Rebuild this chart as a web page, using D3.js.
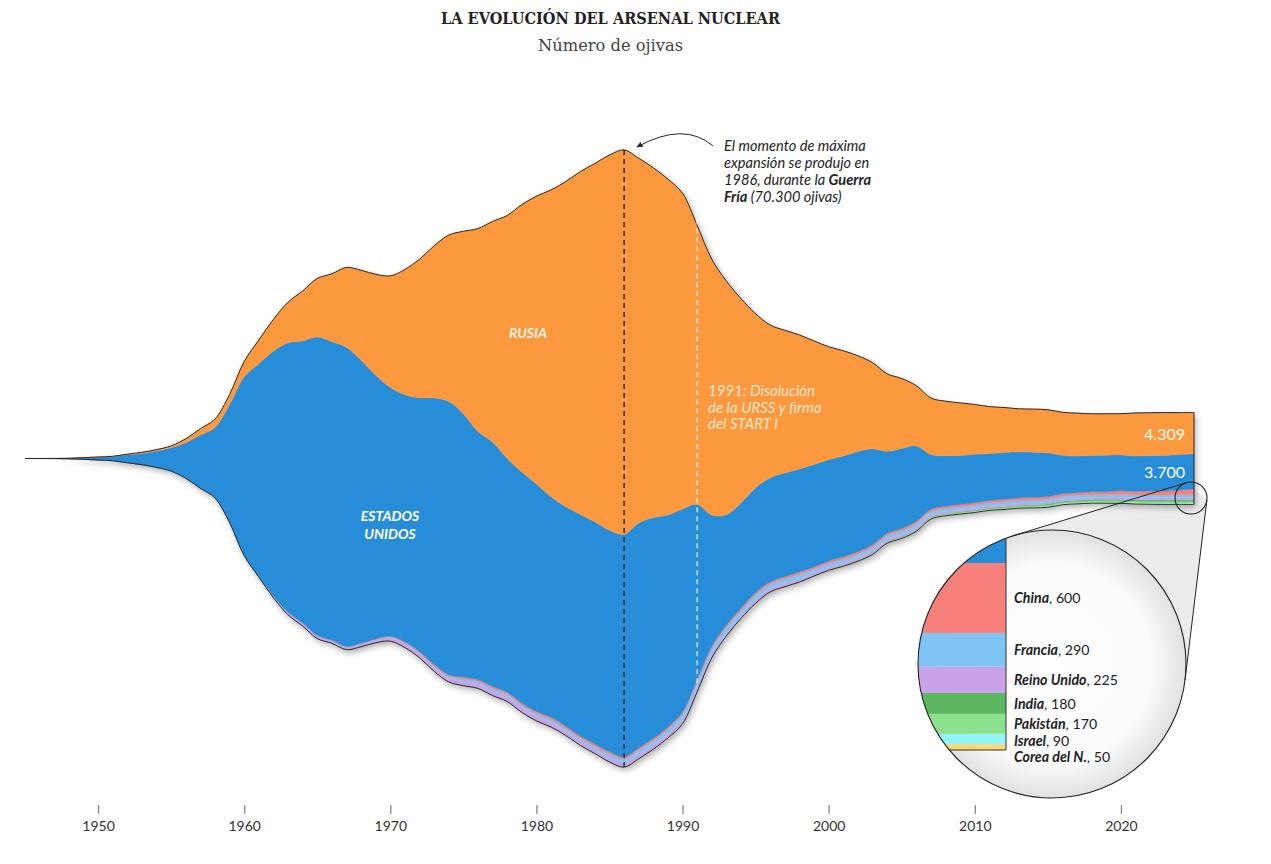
<!DOCTYPE html>
<html><head><meta charset="utf-8">
<script src="https://cdn.jsdelivr.net/npm/d3@7"></script>
<style>
body{margin:0;background:#fff;}
svg{display:block;}
text{font-family:Lato,"Open Sans",sans-serif;}
</style></head><body>
<svg id="chart" width="1271" height="864"></svg>
<script>
// ---------- DATA ----------
const startYear = 1945, endYear = 2025;
const years = d3.range(startYear, endYear + 1);

const usa = [
  2, 9, 13, 50, 170, 299, 438, 841, 1169, 1703,
  2422, 3692, 5543, 7345, 12298, 18638, 22229, 25540, 28133, 29463,
  31139, 31175, 31255, 29561, 27552, 26008, 25830, 26516, 27835, 28537,
  27519, 25914, 25542, 24418, 24138, 23764, 23031, 22937, 23154, 23228,
  23135, 23254, 23490, 23077, 22174, 21211, 18306, 13731, 11536, 11012,
  10953, 10886, 10829, 10763, 10698, 10577, 10526, 10457, 10027, 8570,
  8360, 7853, 5709, 5273, 5113, 5066, 4897, 4881, 4804, 4717,
  4571, 4018, 3822, 3785, 3805, 3750, 3708, 3708, 3708, 3708,
  3700];
const rusia = [
  0, 0, 0, 0, 1, 5, 25, 50, 120, 150,
  200, 426, 660, 869, 1060, 1605, 2471, 3322, 4238, 5221,
  6129, 7089, 8339, 9399, 10538, 11643, 13092, 14478, 15915, 17385,
  19055, 21205, 23044, 25393, 27935, 30062, 32049, 33952, 35804, 37431,
  39197, 40159, 38107, 36538, 35078, 32980, 29154, 26734, 24403, 21339,
  18179, 15942, 14900, 14000, 12900, 11800, 11000, 10000, 9000, 8100,
  7300, 6300, 5900, 5700, 5500, 5200, 4900, 4700, 4500, 4500,
  4500, 4500, 4490, 4350, 4330, 4310, 4495, 4477, 4489, 4380,
  4309];
const reinoUnido = [
  0, 0, 0, 0, 0, 0, 0, 0, 1, 5,
  10, 15, 20, 22, 25, 30, 50, 205, 280, 310,
  310, 270, 270, 280, 308, 375, 420, 420, 420, 420,
  492, 492, 492, 492, 492, 492, 492, 422, 422, 422,
  422, 422, 422, 422, 422, 422, 422, 350, 300, 250,
  300, 300, 300, 280, 281, 281, 281, 281, 281, 281,
  281, 281, 225, 225, 225, 225, 225, 225, 225, 225,
  215, 215, 215, 215, 215, 225, 225, 225, 225, 225,
  225];
const francia = [
  0, 0, 0, 0, 0, 0, 0, 0, 0, 0,
  0, 0, 0, 0, 0, 0, 0, 0, 0, 4,
  32, 36, 36, 36, 36, 36, 45, 70, 116, 145,
  188, 212, 228, 235, 235, 250, 274, 274, 279, 280,
  360, 355, 420, 410, 410, 505, 540, 540, 525, 510,
  500, 450, 450, 450, 350, 350, 350, 350, 350, 350,
  350, 350, 350, 300, 300, 300, 300, 300, 300, 300,
  300, 300, 300, 300, 290, 290, 290, 290, 290, 290,
  290];
const china = [
  0, 0, 0, 0, 0, 0, 0, 0, 0, 0,
  0, 0, 0, 0, 0, 0, 0, 0, 0, 1,
  5, 20, 25, 35, 50, 75, 100, 130, 150, 170,
  185, 190, 200, 205, 210, 215, 220, 225, 230, 235,
  240, 224, 232, 232, 232, 232, 232, 234, 234, 234,
  234, 234, 232, 232, 232, 232, 235, 235, 235, 235,
  235, 235, 240, 240, 240, 240, 240, 250, 250, 260,
  260, 270, 280, 290, 300, 350, 350, 410, 410, 500,
  600];
const india = [
  0, 0, 0, 0, 0, 0, 0, 0, 0, 0,
  0, 0, 0, 0, 0, 0, 0, 0, 0, 0,
  0, 0, 0, 0, 0, 0, 0, 0, 0, 0,
  0, 0, 0, 0, 0, 0, 0, 0, 0, 0,
  0, 0, 0, 0, 0, 0, 0, 0, 0, 0,
  0, 0, 0, 10, 15, 20, 25, 30, 35, 40,
  45, 50, 60, 70, 75, 80, 90, 95, 100, 105,
  110, 120, 130, 135, 140, 150, 156, 160, 164, 172,
  180];
const pakistan = [
  0, 0, 0, 0, 0, 0, 0, 0, 0, 0,
  0, 0, 0, 0, 0, 0, 0, 0, 0, 0,
  0, 0, 0, 0, 0, 0, 0, 0, 0, 0,
  0, 0, 0, 0, 0, 0, 0, 0, 0, 0,
  0, 0, 0, 0, 0, 0, 0, 0, 0, 0,
  0, 0, 0, 5, 10, 20, 25, 30, 35, 40,
  45, 55, 65, 75, 80, 90, 100, 110, 115, 120,
  130, 135, 140, 150, 160, 160, 165, 165, 170, 170,
  170];
const israel = [
  0, 0, 0, 0, 0, 0, 0, 0, 0, 0,
  0, 0, 0, 0, 0, 0, 0, 0, 0, 0,
  0, 0, 2, 4, 8, 13, 15, 17, 18, 20,
  20, 22, 24, 27, 29, 31, 33, 36, 38, 40,
  42, 44, 46, 49, 51, 53, 55, 57, 59, 61,
  63, 65, 67, 69, 71, 72, 74, 76, 78, 80,
  80, 80, 80, 80, 80, 80, 80, 80, 80, 80,
  80, 80, 80, 80, 80, 90, 90, 90, 90, 90,
  90];
const coreaNorte = [
  0, 0, 0, 0, 0, 0, 0, 0, 0, 0,
  0, 0, 0, 0, 0, 0, 0, 0, 0, 0,
  0, 0, 0, 0, 0, 0, 0, 0, 0, 0,
  0, 0, 0, 0, 0, 0, 0, 0, 0, 0,
  0, 0, 0, 0, 0, 0, 0, 0, 0, 0,
  0, 0, 0, 0, 0, 0, 0, 0, 0, 0,
  0, 2, 3, 4, 5, 6, 8, 10, 12, 15,
  18, 20, 25, 30, 30, 35, 40, 40, 50, 50,
  50];
const tickYears = [1950, 1960, 1970, 1980, 1990, 2000, 2010, 2020];
const peakYear = 1986, ussrYear = 1991;

// ---------- SETUP ----------
const seriesArrays = {corea: coreaNorte, israel: israel, pakistan: pakistan, india: india,
  reino: reinoUnido, francia: francia, china: china, us: usa, rusia: rusia};
const keys = ["corea", "israel", "pakistan", "india", "reino", "francia", "china", "us", "rusia"];
const colors = {rusia: "#fc993e", us: "#288dd8", china: "#f8807b", francia: "#80c4f6",
  reino: "#c9a3ea", india: "#5cb860", pakistan: "#8ce18d", israel: "#92f6f6", corea: "#f6da7a"};

const rows = years.map((yr, i) => {
  const r = {year: yr};
  keys.forEach(k => r[k] = seriesArrays[k][i]);
  return r;
});

const stack = d3.stack().keys(keys).order(d3.stackOrderNone).offset(d3.stackOffsetSilhouette);
const series = stack(rows);

const x = d3.scaleLinear().domain([startYear, endYear]).range([25, 1194]);
const y = d3.scaleLinear().domain([-35000, 35000]).range([793.6, 123.4]);
const curve = d3.curveCatmullRom.alpha(0.5);

const svg = d3.select("#chart");
const defs = svg.append("defs");
const f = defs.append("filter").attr("id", "shadow")
  .attr("x", "-5%").attr("y", "-5%").attr("width", "112%").attr("height", "115%");
f.append("feDropShadow").attr("dx", 2).attr("dy", 3).attr("stdDeviation", 3)
  .attr("flood-color", "#000").attr("flood-opacity", 0.32);
const rg = defs.append("radialGradient").attr("id", "lens");
rg.append("stop").attr("offset", "0%").attr("stop-color", "#ffffff");
rg.append("stop").attr("offset", "75%").attr("stop-color", "#fbfbfb");
rg.append("stop").attr("offset", "100%").attr("stop-color", "#e1e1e1");
defs.append("marker").attr("id", "arrow").attr("viewBox", "0 0 10 10")
  .attr("refX", 8).attr("refY", 5).attr("markerWidth", 7).attr("markerHeight", 7)
  .attr("orient", "auto")
  .append("path").attr("d", "M0,1 L9,5 L0,9 Z").attr("fill", "#222");

svg.append("rect").attr("width", 1271).attr("height", 864).attr("fill", "#fff");

// ---------- TITLE ----------
svg.append("text").attr("x", 610.5).attr("y", 24).attr("text-anchor", "middle")
  .style("font-family", "'DejaVu Serif', serif").attr("font-weight", 700)
  .attr("font-size", 16.5).attr("fill", "#222")
  .attr("textLength", 339).attr("lengthAdjust", "spacingAndGlyphs")
  .text("LA EVOLUCIÓN DEL ARSENAL NUCLEAR");
svg.append("text").attr("x", 610.5).attr("y", 51).attr("text-anchor", "middle")
  .style("font-family", "'DejaVu Serif', serif")
  .attr("font-size", 17).attr("fill", "#444")
  .attr("textLength", 145).attr("lengthAdjust", "spacingAndGlyphs")
  .text("Número de ojivas");

// ---------- MAGNIFIER CONE (behind chart) ----------
const small = {x: 1191, y: 498, r: 16};
const big = {x: 1052, y: 664, r: 134};
function tangents(c1, c2) {
  const dx = c2.x - c1.x, dy = c2.y - c1.y, d = Math.hypot(dx, dy);
  const ux = dx / d, uy = dy / d;
  const cs = (c2.r - c1.r) / d, sn = Math.sqrt(1 - cs * cs);
  return [1, -1].map(s => {
    const nx = cs * ux - s * sn * uy, ny = cs * uy + s * sn * ux;
    return {p1: [c1.x - c1.r * nx, c1.y - c1.r * ny], p2: [c2.x - c2.r * nx, c2.y - c2.r * ny]};
  });
}
const tg = tangents(small, big);
svg.append("path")
  .attr("d", `M${tg[0].p1}L${tg[0].p2}L${tg[1].p2}L${tg[1].p1}Z`)
  .attr("fill", "#ececec");

// ---------- STREAMGRAPH ----------
const topS = series[series.length - 1], botS = series[0];
const idx = d3.range(years.length);
const outline = d3.area()
  .x(i => x(years[i]))
  .y0(i => y(botS[i][0]))
  .y1(i => y(topS[i][1]))
  .curve(curve);

svg.append("path").datum(idx).attr("d", outline).attr("fill", "#fff").attr("filter", "url(#shadow)");

const area = d3.area()
  .x(d => x(d.data.year))
  .y0(d => y(d[0]))
  .y1(d => y(d[1]))
  .curve(curve);

svg.append("g").selectAll("path").data(series).join("path")
  .attr("d", area).attr("fill", d => colors[d.key])
  .attr("stroke", d => colors[d.key]).attr("stroke-width", 0.4);

svg.append("path").datum(idx).attr("d", outline)
  .attr("fill", "none").attr("stroke", "#2a2a2a").attr("stroke-width", 1);

// ---------- REFERENCE LINES ----------
const iPeak = years.indexOf(peakYear), iUssr = years.indexOf(ussrYear);
svg.append("line")
  .attr("x1", x(peakYear)).attr("x2", x(peakYear))
  .attr("y1", y(topS[iPeak][1])).attr("y2", y(botS[iPeak][0]))
  .attr("stroke", "#2b2b2b").attr("stroke-width", 1.5).attr("stroke-dasharray", "5,4");
svg.append("line")
  .attr("x1", x(ussrYear)).attr("x2", x(ussrYear))
  .attr("y1", y(topS[iUssr][1]) - 6).attr("y2", y(botS[iUssr][0]) - 4)
  .attr("stroke", "#ffffff").attr("stroke-opacity", 0.85).attr("stroke-width", 1.3)
  .attr("stroke-dasharray", "5,4");

// ---------- AXIS ----------
const axis = svg.append("g").attr("transform", "translate(0,805)")
  .call(d3.axisBottom(x).tickValues(tickYears).tickFormat(d3.format("d")).tickSize(9).tickPadding(7));
axis.select(".domain").remove();
axis.selectAll(".tick line").attr("stroke", "#888").attr("stroke-width", 1.3);
axis.selectAll(".tick text").attr("fill", "#333").attr("font-size", 14)
  .style("font-family", "Lato, sans-serif");

// ---------- LABELS ----------
function label(txt, xx, yy, opts = {}) {
  return svg.append("text").attr("x", xx).attr("y", yy)
    .attr("text-anchor", opts.anchor || "middle")
    .attr("font-size", opts.size || 14)
    .attr("font-weight", opts.weight || 400)
    .attr("font-style", opts.style || "normal")
    .attr("fill", opts.fill || "#fff")
    .text(txt);
}
label("RUSIA", 528, 338, {weight: 700, style: "italic", fill: "#fdf1e6"});
label("ESTADOS", 390, 521, {weight: 700, style: "italic"});
label("UNIDOS", 390, 539, {weight: 700, style: "italic"});

const fmt = d3.formatLocale({decimal: ",", thousands: ".", grouping: [3], currency: ["", "€"]}).format(",");
const last = years.length - 1;
const rTop = series[keys.indexOf("rusia")][last], uTop = series[keys.indexOf("us")][last];
label(fmt(rusia[last]), 1185, (y(rTop[0]) + y(rTop[1])) / 2 + 7, {anchor: "end", size: 16});
label(fmt(usa[last]), 1185, (y(uTop[0]) + y(uTop[1])) / 2 + 7, {anchor: "end", size: 16});

// 1991 annotation
["1991: Disolución", "de la URSS y firma", "del START I"].forEach((t, i) => {
  label(t, 708, 396 + i * 16.5, {anchor: "start", style: "italic", fill: "#ffe7cf", size: 15});
});

// Peak annotation
svg.append("path").attr("d", "M713,146 Q684,121 637,147")
  .attr("fill", "none").attr("stroke", "#222").attr("stroke-width", 1)
  .attr("marker-end", "url(#arrow)");
const ann = svg.append("text").attr("x", 724).attr("y", 151)
  .attr("font-size", 14.6).attr("font-style", "italic").attr("fill", "#222");
ann.append("tspan").attr("x", 724).attr("dy", 0).text("El momento de máxima");
ann.append("tspan").attr("x", 724).attr("dy", 17).text("expansión se produjo en");
ann.append("tspan").attr("x", 724).attr("dy", 17).text("1986, durante la ");
ann.append("tspan").attr("font-weight", 700).text("Guerra");
ann.append("tspan").attr("x", 724).attr("dy", 17).attr("font-weight", 700).text("Fría");
ann.append("tspan").text(" (70.300 ojivas)");

// ---------- INSET LENS ----------
const insetKeys = ["china", "francia", "reino", "india", "pakistan", "israel", "corea"];
const insetNames = ["China", "Francia", "Reino Unido", "India", "Pakistán", "Israel", "Corea del N."];
const smallTotal = d3.sum(insetKeys, k => seriesArrays[k][last]);
const yIn = d3.scaleLinear().domain([0, smallTotal]).range([750, 563]);
const barRight = 1006;

defs.append("clipPath").attr("id", "lensClip").append("circle")
  .attr("cx", big.x).attr("cy", big.y).attr("r", big.r);
svg.append("circle").attr("cx", big.x).attr("cy", big.y).attr("r", big.r).attr("fill", "url(#lens)");

const gIn = svg.append("g").attr("clip-path", "url(#lensClip)");
let acc = 0;
const bands = [];
insetKeys.slice().reverse().forEach(k => {
  const v = seriesArrays[k][last];
  bands.push({key: k, y0: acc, y1: acc + v});
  acc += v;
});
bands.push({key: "us", y0: acc, y1: acc + usa[last]});
gIn.selectAll("rect").data(bands).join("rect")
  .attr("x", big.x - big.r - 2).attr("width", barRight - (big.x - big.r - 2))
  .attr("y", d => yIn(d.y1)).attr("height", d => yIn(d.y0) - yIn(d.y1))
  .attr("fill", d => colors[d.key]);
gIn.append("path")
  .attr("d", `M${barRight},${big.y - big.r - 2}V${yIn(0)}H${big.x - big.r - 2}`)
  .attr("fill", "none").attr("stroke", "#333").attr("stroke-width", 1);

svg.append("circle").attr("cx", big.x).attr("cy", big.y).attr("r", big.r)
  .attr("fill", "none").attr("stroke", "#222").attr("stroke-width", 1.1);
svg.append("circle").attr("cx", small.x).attr("cy", small.y).attr("r", small.r)
  .attr("fill", "none").attr("stroke", "#222").attr("stroke-width", 1.1);
tg.forEach(t => svg.append("line")
  .attr("x1", t.p1[0]).attr("y1", t.p1[1]).attr("x2", t.p2[0]).attr("y2", t.p2[1])
  .attr("stroke", "#222").attr("stroke-width", 1));

const centers = insetKeys.map(k => {
  const b = bands.find(bb => bb.key === k);
  return (yIn(b.y0) + yIn(b.y1)) / 2;
});
const labY = [];
centers.forEach((c, i) => { labY.push(i === 0 ? c : Math.max(c, labY[i - 1] + 16.5)); });
insetKeys.forEach((k, i) => {
  const t = svg.append("text").attr("x", 1014).attr("y", labY[i] + 5.5)
    .attr("font-size", 14.2).attr("fill", "#222");
  t.append("tspan").attr("font-weight", 700).attr("font-style", "italic").text(insetNames[i]);
  t.append("tspan").text(", " + fmt(seriesArrays[k][last]));
});
</script>
</body></html>
